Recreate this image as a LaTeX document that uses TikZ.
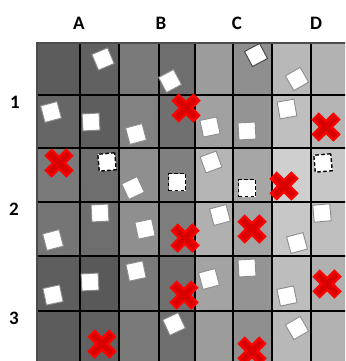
\documentclass[tikz,border=0pt]{standalone}
\usepackage{fontspec}
\setmainfont{Carlito}
\begin{document}
\begin{tikzpicture}[x=1pt,y=-1pt,
  sq/.style={draw=black!45, line width=0.9pt, fill=white, minimum size=17pt, inner sep=0pt},
  sqd/.style={sq, draw=black!75},
  dsq/.style={draw=black, dash pattern=on 3.5pt off 2.5pt, line width=1.4pt, fill=white, minimum size=17pt, inner sep=0pt},
  xmark/.style={minimum size=34pt, inner sep=0pt, path picture={
      \draw[line width=10.5pt, red]
        ([shift={(-11pt,-11pt)}]path picture bounding box.center) -- ([shift={(11pt,11pt)}]path picture bounding box.center)
        ([shift={(-11pt,11pt)}]path picture bounding box.center) -- ([shift={(11pt,-11pt)}]path picture bounding box.center);
      \draw[line width=5.5pt, red!85!black]
        ([shift={(-9.5pt,-9.5pt)}]path picture bounding box.center) -- ([shift={(9.5pt,9.5pt)}]path picture bounding box.center)
        ([shift={(-9.5pt,9.5pt)}]path picture bounding box.center) -- ([shift={(9.5pt,-9.5pt)}]path picture bounding box.center);
  }},
  lab/.style={font=\bfseries\fontsize{19}{19}\selectfont, anchor=base, inner sep=0pt}]
\useasboundingbox (0,0) rectangle (345,361);
\fill[white] (0,0) rectangle (345,361);
\clip (0,0) rectangle (345,361);
% cells
\foreach \r/\vals in {1/{64,62,52,57,39,44,28,30},
                      2/{60,63,49,56,37,42,25,29},
                      3/{52,57,44,50,29,35,19,22},
                      4/{54,57,44,51,31,36,22,25},
                      5/{63,65,52,56,36,42,26,31},
                      6/{64,62,52,57,39,44,28,30}} {
  \foreach \v [count=\c] in \vals {
    \pgfmathsetmacro\xa{{37,80,119,159,195,233,272,311,350}[\c-1]}
    \pgfmathsetmacro\xb{{37,80,119,159,195,233,272,311,350}[\c]}
    \pgfmathsetmacro\ya{{43,95,148,202,256,311,366}[\r-1]}
    \pgfmathsetmacro\yb{{43,95,148,202,256,311,366}[\r]}
    \fill[black!\v] (\xa,\ya) rectangle (\xb,\yb);
  }
}
% grid lines
\foreach \x in {80,119,159,195,233,272,311}
  \draw[line width=1.3pt] (\x,43) -- (\x,366);
\foreach \y in {95,148,202,256,311}
  \draw[line width=1.3pt] (37,\y) -- (350,\y);
\draw[line width=1.2pt, black!70] (37,366) -- (37,43) -- (350,43);
% labels
\node[lab] (A) at (79,29.5) {A};
\node[lab] (B) at (161,29.5) {B};
\node[lab] (C) at (237,29.5) {C};
\node[lab] (D) at (316,29.5) {D};
\node[lab] (r1) at (15,108.5) {1};
\node[lab] (r2) at (14,215.5) {2};
\node[lab] (r3) at (14,324.5) {3};
% squares row 1
\node[sq, rotate=23] (s11) at (103,59) {};
\node[sq, rotate=28] (s12) at (170,81) {};
\node[sqd, rotate=28] (s13) at (256,55) {};
\node[sq, rotate=30] (s14) at (297,79) {};
% row 2
\node[sq, rotate=15] (s21) at (51,112) {};
\node[sq, rotate=3] (s22) at (91,122) {};
\node[sq, rotate=15] (s23) at (136,134) {};
\node[sq, rotate=12] (s24) at (210,127) {};
\node[sq, rotate=3] (s25) at (247,131) {};
\node[sq, rotate=10] (s26) at (287,109) {};
% row 3
\node[dsq, rotate=5] (s31) at (107,162) {};
\node[sq, rotate=25] (s32) at (133,188) {};
\node[dsq, rotate=0] (s33) at (177,182) {};
\node[sq, rotate=20] (s34) at (211,162) {};
\node[dsq, rotate=0] (s35) at (247,188) {};
\node[dsq, rotate=5] (s36) at (323,163) {};
% row 4
\node[sq, rotate=15] (s41) at (53,240) {};
\node[sq, rotate=3] (s42) at (100,213) {};
\node[sq, rotate=12] (s43) at (145,229) {};
\node[sq, rotate=15] (s44) at (220,215) {};
\node[sq, rotate=15] (s45) at (297,243) {};
\node[sq, rotate=5] (s46) at (322,213) {};
% row 5
\node[sq, rotate=12] (s51) at (53,295) {};
\node[sq, rotate=3] (s52) at (90,282) {};
\node[sq, rotate=12] (s53) at (136,271) {};
\node[sq, rotate=15] (s54) at (209,279) {};
\node[sq, rotate=3] (s55) at (247,268) {};
\node[sq, rotate=12] (s56) at (287,296) {};
% row 6
\node[sq, rotate=25] (s61) at (174,324) {};
\node[sq, rotate=30] (s62) at (297,328) {};
% crosses
\node[xmark] (x1) at (186,108) {};
\node[xmark] (x2) at (326,127) {};
\node[xmark] (x3) at (59,163) {};
\node[xmark] (x4) at (284,186) {};
\node[xmark] (x5) at (185,238) {};
\node[xmark] (x6) at (252,229) {};
\node[xmark] (x7) at (184,295) {};
\node[xmark] (x8) at (327,284) {};
\node[xmark] (x9) at (102,344) {};
\node[xmark] (x10) at (252,351) {};
\end{tikzpicture}
\end{document}
